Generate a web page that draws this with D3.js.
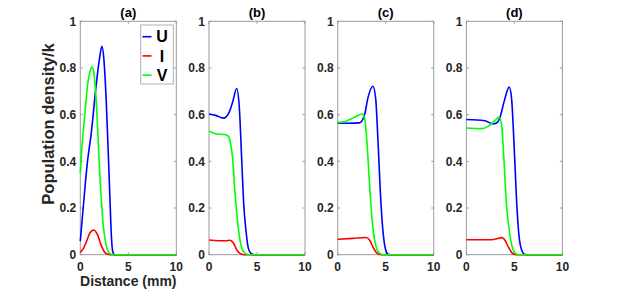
<!DOCTYPE html>
<html>
<head>
<meta charset="utf-8">
<script src="https://d3js.org/d3.v7.min.js"></script>
<style>
    body { margin: 0; background: #fff; }
    svg { font-family: "Liberation Sans", Arial, sans-serif; font-weight: bold; }
</style>
</head>
<body>
<svg width="623" height="290"></svg>
<script>
    // panel titles and tick labels
    var titles = ["(a)", "(b)", "(c)", "(d)"];
    var xTicks = [0, 5, 10];
    var yTicks = [0, 0.2, 0.4, 0.6, 0.8, 1];
    var seriesNames = ["U", "I", "V"];
    var seriesColors = ["#0000ff", "#ff0000", "#00ff00"];

    // (a)
    var aU = [[0,0.058],[0.3,0.2],[0.75,0.4],[1.14,0.52],[1.66,0.73],[2.0,0.84],[2.25,0.893],[2.45,0.84],[2.7,0.66],[2.9,0.45],[3.08,0.25],[3.25,0.07],[3.4,0.01],[3.6,0],[10,0]];
    var aI = [[0,0.01],[0.3,0.025],[0.63,0.055],[1.0,0.093],[1.39,0.106],[1.8,0.085],[2.18,0.04],[2.5,0.013],[2.8,0.003],[3.2,0],[10,0]];
    var aV = [[0,0.35],[0.15,0.45],[0.45,0.59],[0.8,0.74],[1.05,0.79],[1.22,0.805],[1.4,0.78],[1.66,0.66],[2.0,0.37],[2.36,0.14],[2.7,0.04],[3.05,0.006],[3.5,0],[10,0]];
    // (b)
    var bU = [[0,0.603],[0.7,0.597],[1.5,0.585],[2.1,0.61],[2.5,0.66],[2.88,0.712],[3.16,0.629],[3.4,0.414],[3.6,0.228],[3.86,0.1],[4.1,0.027],[4.4,0.004],[4.7,0],[10,0]];
    var bI = [[0,0.063],[1.0,0.06],[1.8,0.06],[2.2,0.062],[2.56,0.049],[2.9,0.02],[3.33,0.003],[3.7,0],[10,0]];
    var bV = [[0,0.529],[0.88,0.517],[1.6,0.515],[1.95,0.51],[2.2,0.486],[2.46,0.414],[2.7,0.27],[2.98,0.142],[3.26,0.056],[3.6,0.013],[4.0,0.001],[4.3,0],[10,0]];
    // (c)
    var cU = [[0,0.564],[1.0,0.563],[2.27,0.565],[2.8,0.6],[3.15,0.672],[3.67,0.722],[3.95,0.672],[4.2,0.486],[4.44,0.27],[4.72,0.099],[5.0,0.02],[5.24,0.002],[5.5,0],[10,0]];
    var cI = [[0,0.066],[1.57,0.07],[2.97,0.074],[3.32,0.063],[3.67,0.034],[4.0,0.01],[4.4,0.001],[4.8,0],[10,0]];
    var cV = [[0,0.567],[0.87,0.572],[1.75,0.589],[2.55,0.603],[2.8,0.586],[3.04,0.486],[3.32,0.3],[3.6,0.142],[3.95,0.042],[4.37,0.006],[4.8,0],[10,0]];
    // (d)
    var dU = [[0,0.579],[1.92,0.574],[2.8,0.56],[3.14,0.564],[3.48,0.586],[3.94,0.658],[4.46,0.718],[4.7,0.672],[4.95,0.486],[5.23,0.228],[5.47,0.085],[5.75,0.02],[6.03,0.002],[6.3,0],[10,0]];
    var dI = [[0,0.064],[2.6,0.064],[3.73,0.073],[4.0,0.063],[4.36,0.034],[4.7,0.01],[5.05,0.001],[5.4,0],[10,0]];
    var dV = [[0,0.543],[1.57,0.54],[2.26,0.55],[2.96,0.574],[3.41,0.59],[3.66,0.557],[3.9,0.414],[4.18,0.213],[4.53,0.085],[4.88,0.02],[5.23,0.002],[5.5,0],[10,0]];

    var panels = [[aU, aI, aV], [bU, bI, bV], [cU, cI, cV], [dU, dI, dV]];

    var svg = d3.select("svg");
    var plotTop = 21.3, plotBottom = 254.7, pw = 96, step = 128.7, left0 = 80.3;
    var axisColor = "#9a9a9a", textColor = "#262626";

    var y = d3.scaleLinear().domain([0, 1]).range([plotBottom, plotTop]);

    panels.forEach(function(series, p) {
        var x0 = left0 + p * step;
        var x = d3.scaleLinear().domain([0, 10]).range([x0, x0 + pw]);
        var g = svg.append("g");

        // white plot area + box
        g.append("rect").attr("x", x0).attr("y", plotTop).attr("width", pw).attr("height", plotBottom - plotTop)
            .attr("fill", "#fff").attr("stroke", axisColor).attr("stroke-width", 1);

        // inside ticks on all four sides
        yTicks.forEach(function(t) {
            g.append("line").attr("x1", x0).attr("x2", x0 + 2.5).attr("y1", y(t)).attr("y2", y(t)).attr("stroke", axisColor);
            g.append("line").attr("x1", x0 + pw).attr("x2", x0 + pw - 2.5).attr("y1", y(t)).attr("y2", y(t)).attr("stroke", axisColor);
            g.append("text").attr("x", x0 - 4).attr("y", y(t)).attr("dy", "0.36em")
                .attr("text-anchor", "end").attr("font-size", 12).attr("fill", textColor)
                .text(d3.format("~g")(t));
        });
        xTicks.forEach(function(t) {
            g.append("line").attr("x1", x(t)).attr("x2", x(t)).attr("y1", plotBottom).attr("y2", plotBottom - 2.5).attr("stroke", axisColor);
            g.append("line").attr("x1", x(t)).attr("x2", x(t)).attr("y1", plotTop).attr("y2", plotTop + 2.5).attr("stroke", axisColor);
            g.append("text").attr("x", x(t)).attr("y", plotBottom + 16)
                .attr("text-anchor", "middle").attr("font-size", 12).attr("fill", textColor)
                .text(t);
        });

        var line = d3.line()
            .x(function(d) { return x(d[0]); })
            .y(function(d) { return y(d[1]); })
            .curve(d3.curveMonotoneX);

        series.forEach(function(s, i) {
            g.append("path").datum(s)
                .attr("d", line)
                .attr("fill", "none")
                .attr("stroke", seriesColors[i])
                .attr("stroke-width", 1.6);
        });

        g.append("text").attr("x", x0 + pw / 2).attr("y", 16.5)
            .attr("text-anchor", "middle").attr("font-size", 13).attr("fill", "#000")
            .text(titles[p]);

        if (p === 0) {
            // legend
            var lg = g.append("g");
            lg.append("rect").attr("x", 140.7).attr("y", 25).attr("width", 32.6).attr("height", 59)
                .attr("fill", "#fff").attr("stroke", "#b0b0b0");
            seriesNames.forEach(function(n, i) {
                var ly = 36.7 + i * 19.2;
                lg.append("line").attr("x1", 142.5).attr("x2", 151.5).attr("y1", ly).attr("y2", ly)
                    .attr("stroke", seriesColors[i]).attr("stroke-width", 1.6);
                lg.append("text").attr("x", 162).attr("y", ly).attr("dy", "0.36em")
                    .attr("text-anchor", "middle").attr("font-size", 16).attr("fill", "#000")
                    .text(n);
            });

            g.append("text").attr("x", x0 + pw / 2).attr("y", 286)
                .attr("text-anchor", "middle").attr("font-size", 14).attr("fill", textColor)
                .text("Distance (mm)");
            g.append("text")
                .attr("transform", "translate(54,124) rotate(-90)")
                .attr("text-anchor", "middle").attr("font-size", 16.5).attr("fill", textColor)
                .text("Population density/k");
        }
    });
</script>
</body>
</html>
